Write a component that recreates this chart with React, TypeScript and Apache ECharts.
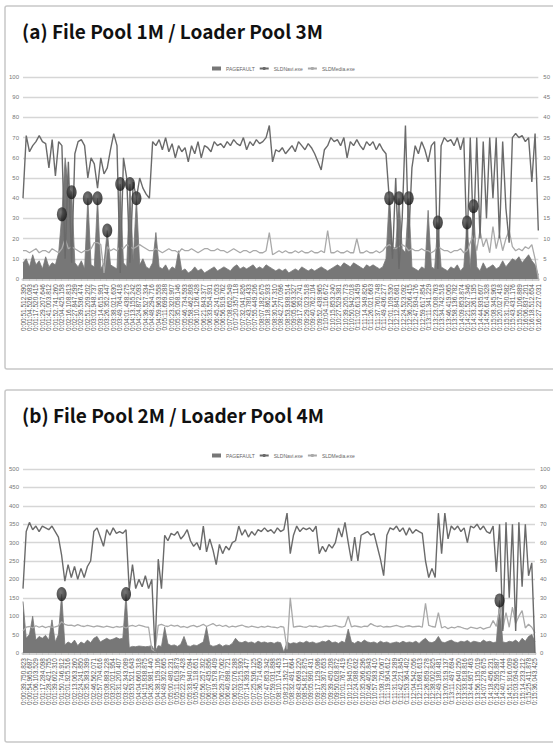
import React, { useEffect, useRef } from "react";
import * as echarts from "echarts";

// ---------- Tick labels ----------
const LABELS_A = [
  "0:00:51.512.390","0:01:04.526.083","0:01:17.520.415","0:01:29.207.646","0:01:41.003.812","0:01:52.741.260","0:02:04.425.158","0:02:16.108.813","0:02:27.847.299","0:02:39.536.474",
  "0:02:51.209.202","0:03:02.948.737","0:03:14.615.991","0:03:26.352.447","0:03:38.021.630","0:03:49.764.418","0:04:01.438.275","0:04:13.155.242","0:04:24.872.093","0:04:36.527.334",
  "0:04:48.294.716","0:04:59.963.558","0:05:11.699.288","0:05:23.320.907","0:05:35.058.146","0:05:46.734.593","0:05:58.462.808","0:06:10.126.428","0:06:21.843.377","0:06:33.554.931",
  "0:06:45.241.053","0:06:56.919.762","0:07:08.652.549","0:07:20.357.118","0:07:32.041.826","0:07:43.780.433","0:07:55.449.206","0:08:07.182.675","0:08:18.862.933","0:08:30.547.310",
  "0:08:42.270.096","0:08:53.938.514","0:09:05.663.327","0:09:17.352.741","0:09:29.023.518","0:09:40.762.104","0:09:52.438.965","0:10:04.116.672","0:10:15.853.240","0:10:27.529.381",
  "0:10:39.205.773","0:10:50.942.018","0:11:02.613.459","0:11:14.349.826","0:11:26.021.663","0:11:37.760.748","0:11:49.436.277","0:12:01.109.530","0:12:12.845.681","0:12:24.523.092",
  "0:12:36.206.415","0:12:47.934.176","0:12:59.617.854","0:13:11.341.229","0:13:23.008.763","0:13:34.742.518","0:13:46.419.065","0:13:58.136.782","0:14:09.853.874","0:14:21.527.346",
  "0:14:33.261.195","0:14:44.935.607","0:14:56.614.328","0:15:08.345.963","0:15:20.027.418","0:15:31.750.582","0:15:43.431.176","0:15:55.106.889","0:16:06.837.201","0:16:18.512.654",
  "0:16:27.227.031",
];
const LABELS_B = [
  "0:00:39.750.823","0:00:54.965.687","0:01:06.103.529","0:01:17.284.098","0:01:28.421.755","0:01:39.602.310","0:01:50.746.912","0:02:01.925.516","0:02:13.063.260","0:02:24.241.850",
  "0:02:35.383.399","0:02:46.562.071","0:02:57.704.616","0:03:08.883.228","0:03:20.021.954","0:03:31.200.407","0:03:42.343.089","0:03:53.521.643","0:04:04.660.318","0:04:15.838.875",
  "0:04:26.981.440","0:04:38.159.106","0:04:49.302.665","0:05:00.480.231","0:05:11.619.873","0:05:22.797.428","0:05:33.940.094","0:05:45.118.651","0:05:56.257.302","0:06:07.435.856",
  "0:06:18.578.409","0:06:29.757.062","0:06:40.898.721","0:06:52.076.288","0:07:03.215.930","0:07:14.393.477","0:07:25.536.125","0:07:36.714.690","0:07:47.853.342","0:07:59.031.898",
  "0:08:10.174.453","0:08:21.352.117","0:08:32.491.664","0:08:43.669.220","0:08:54.812.875","0:09:05.990.431","0:09:17.129.086","0:09:28.307.653","0:09:39.450.208","0:09:50.628.872",
  "0:10:01.767.419","0:10:12.945.075","0:10:24.088.632","0:10:35.266.296","0:10:46.405.843","0:10:57.583.410","0:11:08.726.067","0:11:19.904.612","0:11:31.043.289","0:11:42.221.845",
  "0:11:53.364.402","0:12:04.542.056","0:12:15.681.613","0:12:26.859.278","0:12:38.002.825","0:12:49.180.481","0:13:00.319.137","0:13:11.497.694","0:13:22.640.250","0:13:33.818.816",
  "0:13:44.957.463","0:13:56.135.019","0:14:07.278.675","0:14:18.456.231","0:14:29.595.887","0:14:40.773.444","0:14:51.916.009","0:15:03.094.656","0:15:14.233.212","0:15:25.411.878",
  "0:15:36.043.425",
];

// ---------- Panel (a) series ----------
const NAVI_A = [
  40,71,63,66,68,71,68,67,55,69,
  51,68,66,10,58,8,62,68,69,66,
  50,60,57,45,60,52,55,64,72,66,
  3,60,50,8,48,40,50,45,42,40,
  68,66,69,64,70,63,67,60,66,63,
  65,58,66,62,68,60,66,65,63,68,
  66,67,65,68,66,69,67,66,70,64,
  68,66,69,67,68,70,76,58,64,63,
  65,62,64,66,63,68,66,64,67,65,
  62,58,54,64,66,70,68,69,66,70,
  60,68,66,69,66,64,68,66,68,64,
  67,64,62,40,10,50,5,30,76,20,
  55,66,62,68,64,58,66,68,5,66,
  70,68,69,66,70,64,70,15,70,20,
  70,20,68,30,70,40,70,20,68,35,
  18,70,72,70,71,68,70,48,72,24,
];
const MEDIA_A = [
  14,14,13,14,15,13,14,14,13,15,
  14,13,15,20,15,16,15,14,13,14,
  14,15,18,18,17,3,16,14,15,14,
  16,15,17,16,15,16,17,16,15,14,
  14,15,14,13,14,15,14,14,13,15,
  14,14,15,14,13,14,15,15,14,14,
  15,14,14,13,14,15,14,13,14,14,
  13,14,14,13,13,14,23,12,13,14,
  13,14,13,13,14,13,14,13,13,14,
  13,13,14,13,24,13,13,14,13,13,
  14,13,13,20,13,13,14,13,13,14,
  13,14,16,17,16,15,16,17,16,14,
  15,14,14,15,14,14,13,14,16,15,
  14,14,13,14,14,15,13,14,18,22,
  14,24,16,20,13,26,15,22,14,20,
  24,16,14,15,14,16,15,17,10,0,
];
const PF_A = [
  8,10,6,12,7,9,5,11,6,8,
  7,13,32,60,45,43,8,6,9,5,
  40,7,6,40,5,8,24,7,6,5,
  47,8,6,47,9,40,7,10,6,5,
  8,23,6,5,7,4,6,5,14,4,
  5,3,4,6,4,5,3,4,5,6,
  4,5,6,5,4,6,7,5,6,5,
  6,7,5,6,5,7,6,5,4,5,
  4,5,3,4,5,4,6,5,4,5,
  4,5,6,5,4,5,6,7,6,8,
  7,6,8,7,6,5,7,6,7,6,
  5,6,10,40,14,16,40,15,13,40,
  6,5,4,6,5,34,6,5,28,6,
  5,4,6,5,7,4,6,28,5,36,
  6,4,8,5,6,7,5,6,9,6,
  8,10,9,11,8,10,12,9,7,2,
];
const MARK_A_IDX = [12, 15, 20, 23, 26, 30, 33, 35, 113, 116, 119, 128, 137, 139];
const MARK_A_VAL = [32, 43, 40, 40, 24, 47, 47, 40, 40, 40, 40, 28, 28, 36];

// ---------- Panel (b) series ----------
const NAVI_B = [
  175,330,355,335,345,330,345,340,335,345,
  330,315,265,195,240,205,235,200,230,205,
  235,250,330,340,315,290,335,320,340,325,
  330,325,335,170,240,175,200,180,210,175,
  200,5,255,175,320,305,325,320,330,310,
  320,335,305,290,300,280,345,275,310,280,
  240,295,270,290,280,300,305,345,320,335,
  315,330,320,335,330,340,330,335,325,340,
  330,335,380,270,320,345,330,340,335,340,
  330,345,270,290,275,295,285,300,340,315,
  355,300,250,315,250,320,325,330,320,325,
  290,255,210,320,340,335,345,330,340,320,
  340,325,335,330,325,250,205,230,205,380,
  270,380,310,345,335,345,330,340,300,345,
  340,350,335,345,330,325,345,220,350,60,
  355,150,350,60,355,180,350,210,245,0,
];
const MEDIA_B = [
  60,70,72,68,74,70,73,69,72,70,
  71,74,85,78,75,76,73,77,74,72,
  75,73,71,74,72,70,73,71,69,72,
  70,72,68,73,75,72,76,74,71,70,
  10,5,75,78,74,72,76,73,75,70,
  72,69,73,75,71,74,78,72,76,80,
  74,76,72,75,70,73,71,74,76,72,
  70,73,71,69,72,70,73,71,70,68,
  72,70,10,150,70,72,73,71,70,74,
  72,73,70,71,74,72,73,75,72,70,
  73,100,71,74,72,70,73,72,80,75,
  72,74,70,72,71,73,75,72,70,73,
  74,71,72,73,70,135,75,72,70,110,
  68,72,66,70,68,72,70,67,65,70,
  68,66,70,65,68,70,88,72,120,65,
  110,70,125,80,100,115,68,78,70,55,
];
const PF_B = [
  140,40,50,100,35,45,40,48,35,90,
  30,50,160,22,30,25,35,20,30,25,
  35,28,40,45,30,35,40,35,38,42,
  38,40,160,15,18,17,19,18,17,18,
  20,4,20,18,70,25,20,22,18,24,
  45,20,18,22,20,25,30,70,22,18,
  20,24,18,22,20,26,40,30,28,32,
  28,30,26,32,28,30,27,29,26,30,
  28,2,30,25,28,26,30,27,32,28,
  30,26,28,32,30,35,28,30,26,32,
  28,65,30,26,32,28,35,30,28,30,
  26,32,28,30,26,28,30,27,32,28,
  30,28,32,26,34,40,30,28,32,45,
  30,28,32,35,30,28,32,30,34,28,
  32,30,28,35,30,32,28,30,143,30,
  28,32,30,35,28,40,32,45,50,30,
];
const MARK_B_IDX = [12, 32, 148];
const MARK_B_VAL = [160, 160, 143];

const TITLE_A = "(a) File Pool 1M / Loader Pool 3M";
const TITLE_B = "(b) File Pool 2M / Loader Pool 4M";
const NAMES = ["PAGEFAULT", "SLDNavi.exe", "SLDMedia.exe"];

const C_PF = "#777777";
const C_NAVI = "#6a6a6a";
const C_MEDIA = "#a9a9a9";
const GRID_C = "#d6d6d6";
const AX_FONT = "'Liberation Sans Narrow', 'Liberation Sans', Arial, sans-serif";

export default function App() {
  const ref = useRef<HTMLDivElement>(null);

  useEffect(() => {
    document.body.style.margin = "0";
    const chart = echarts.init(ref.current!, null, { renderer: "svg" });

    const idxA = NAVI_A.map((_, i) => String(i));
    const idxB = NAVI_B.map((_, i) => String(i));

    const labelAxis = (grid: number, data: string[]) => ({
      type: "category",
      gridIndex: grid,
      data,
      boundaryGap: false,
      axisLine: { lineStyle: { color: "#d2d2d2", width: 3 } },
      axisTick: { show: true, length: 2, interval: 0, lineStyle: { color: "#c4c4c4" } },
      axisLabel: {
        rotate: 90,
        interval: 0,
        fontSize: 6.5,
        color: "#555",
        margin: 5,
        fontFamily: AX_FONT,
      },
    });
    const dataAxis = (grid: number, data: string[]) => ({
      type: "category",
      gridIndex: grid,
      data,
      boundaryGap: false,
      show: false,
    });
    const yAx = (grid: number, pos: string, max: number, interval: number, split: boolean) => ({
      type: "value",
      gridIndex: grid,
      position: pos,
      min: 0,
      max,
      interval,
      axisLine: { show: false },
      axisTick: { show: false },
      axisLabel: { fontSize: 6, color: "#777", margin: pos === "left" ? 4 : 5, fontFamily: AX_FONT },
      splitLine: { show: split, lineStyle: { color: GRID_C, width: 1.3 } },
    });

    const markerStyle = {
      color: {
        type: "radial",
        x: 0.4,
        y: 0.35,
        r: 0.7,
        colorStops: [
          { offset: 0, color: "#555555" },
          { offset: 1, color: "#0e0e0e" },
        ],
      },
    };

    const panelSeries = (xi: number, yi: number, pf: number[], media: number[], navi: number[], mi: number[], mv: number[]) => [
      {
        name: NAMES[0],
        type: "line",
        xAxisIndex: xi,
        yAxisIndex: yi,
        data: pf,
        symbol: "none",
        color: C_PF,
        lineStyle: { width: 0.8, color: C_PF },
        areaStyle: { color: C_PF, opacity: 1 },
        z: 2,
      },
      {
        name: NAMES[2],
        type: "line",
        xAxisIndex: xi,
        yAxisIndex: yi,
        data: media,
        symbol: "none",
        color: C_MEDIA,
        lineStyle: { width: 1.3, color: C_MEDIA },
        z: 3,
      },
      {
        name: NAMES[1],
        type: "line",
        xAxisIndex: xi,
        yAxisIndex: yi,
        data: navi,
        symbol: "none",
        color: C_NAVI,
        lineStyle: { width: 1.4, color: C_NAVI },
        z: 4,
      },
      {
        name: "marker",
        type: "scatter",
        xAxisIndex: xi,
        yAxisIndex: yi,
        data: mi.map((k, j) => [String(k), mv[j]]),
        symbol: "circle",
        symbolSize: [10, 14],
        itemStyle: markerStyle,
        z: 10,
      },
    ];

    const legend = (top: number) => ({
      top,
      left: 207,
      selectedMode: false,
      itemWidth: 9,
      itemHeight: 4,
      itemGap: 4,
      textStyle: { fontSize: 5, color: "#666", fontFamily: AX_FONT },
      data: [
        { name: NAMES[0], icon: "rect" },
        { name: NAMES[1] },
        { name: NAMES[2] },
      ],
    });

    const titleStyle = {
      fontSize: 19,
      fontWeight: "bold",
      color: "#111",
      fontFamily: "'Noto Sans CJK KR', 'Noto Sans', sans-serif",
    };

    chart.setOption({
      animation: false,
      backgroundColor: "#fff",
      title: [
        { text: TITLE_A, left: 17, top: 16, textStyle: titleStyle },
        { text: TITLE_B, left: 17, top: 400, textStyle: titleStyle },
      ],
      legend: [legend(61), legend(448)],
      graphic: [
        {
          type: "rect",
          shape: { x: 5, y: 6, width: 560, height: 363, r: 2 },
          style: { fill: "none", stroke: "#c8c8c8", lineWidth: 1.5 },
          silent: true,
        },
        {
          type: "rect",
          shape: { x: 5, y: 390, width: 560, height: 352, r: 2 },
          style: { fill: "none", stroke: "#c8c8c8", lineWidth: 1.5 },
          silent: true,
        },
      ],
      grid: [
        { left: 23, right: 12, top: 77, height: 202 },
        { left: 23, right: 12, top: 469, height: 184 },
      ],
      xAxis: [
        labelAxis(0, LABELS_A),
        dataAxis(0, idxA),
        labelAxis(1, LABELS_B),
        dataAxis(1, idxB),
      ],
      yAxis: [
        yAx(0, "left", 100, 10, true),
        yAx(0, "right", 50, 5, false),
        yAx(1, "left", 500, 50, true),
        yAx(1, "right", 100, 10, false),
      ],
      series: [
        ...panelSeries(1, 0, PF_A, MEDIA_A, NAVI_A, MARK_A_IDX, MARK_A_VAL),
        ...panelSeries(3, 2, PF_B, MEDIA_B, NAVI_B, MARK_B_IDX, MARK_B_VAL),
      ],
    });

    return () => chart.dispose();
  }, []);

  return <div ref={ref} style={{ width: 553, height: 748, background: "#fff" }} />;
}
